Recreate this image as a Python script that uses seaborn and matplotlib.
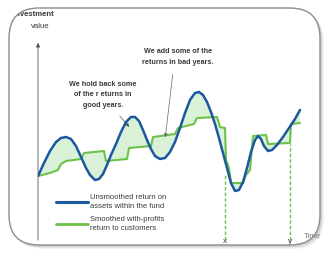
import numpy as np
import pandas as pd
import seaborn as sns
import matplotlib.pyplot as plt
from matplotlib.patches import FancyBboxPatch, PathPatch
from matplotlib.path import Path
from matplotlib.transforms import IdentityTransform, Bbox
from matplotlib.lines import Line2D

# values (time units, value units)
blue_t = [0, 6, 12, 18, 23, 28, 33, 38, 43, 48, 52, 57, 61, 65, 69, 73, 78, 83, 88, 93,
          97, 101, 105, 109, 113, 117, 122, 127, 132, 137, 142, 147, 152, 157, 161, 165,
          169, 173, 177, 181, 185, 189, 193, 197, 201, 205, 209, 213, 217, 220, 223, 226,
          230, 234, 239, 245, 251, 257, 262]
blue_v = [67, 80, 92, 101, 105, 106, 104, 97, 86, 75, 68, 63, 64, 69, 78, 88, 99, 111, 121, 126,
          126, 122, 113, 103, 94, 87, 84, 85, 91, 101, 115, 130, 143, 150, 151, 148,
          141, 131, 119, 105, 90, 75, 60, 52, 53, 61, 75, 91, 103, 107, 104, 97,
          92, 93, 98, 106, 115, 124, 133]
green_t = [0, 12, 20, 23, 28, 43, 46, 66, 68, 89, 91, 113, 115, 137, 140, 156, 159, 179,
           182, 187, 188, 191, 193, 205, 208, 212, 215, 228, 230, 252, 253, 262]
green_v = [67, 70, 73, 79, 82, 84, 90, 92, 82, 84, 95, 97, 106, 109, 115, 119, 125, 126,
           116, 115, 83, 75, 60, 60, 68, 73, 107, 108, 99, 100, 119, 120]
marks_t = [187, 252]
marks_v = [69, 99]
mark_labels = ['x', 'y']

BLUE = '#1b58a0'
GREEN = '#6cc24a'
FILL = '#d9f1d6'
TXT = '#3a3a3a'

sns.set_theme(style='white')
plt.rcParams['font.family'] = ['Liberation Sans', 'DejaVu Sans']

fig = plt.figure(figsize=(3.26, 2.54), dpi=100)
fig.patch.set_facecolor('white')

# frame with soft shadow (pixel coordinates)
box = dict(boxstyle='round,pad=0,rounding_size=30', transform=IdentityTransform())
for off, a in [(4, 0.10), (3, 0.15), (2, 0.25)]:
    fig.patches.append(FancyBboxPatch((9 + off, 9 - off), 311, 237, facecolor='#9a9a9a',
                                      edgecolor='none', alpha=a, zorder=-6, **box))
frame = FancyBboxPatch((9, 9), 311, 237, facecolor='white', edgecolor='none', zorder=-5, **box)
fig.patches.append(frame)

# white mask outside the top-left corner so the label is cut by the frame
poly = frame.get_path().to_polygons()[0]
area = 0.5 * np.sum(poly[:-1, 0] * poly[1:, 1] - poly[1:, 0] * poly[:-1, 1])
if area > 0:
    poly = poly[::-1]
corner = np.array([[0, 190], [80, 190], [80, 254], [0, 254], [0, 190]])
mask = PathPatch(Path.make_compound_path(Path(corner, closed=True), Path(poly, closed=True)),
                 transform=IdentityTransform(), facecolor='white', edgecolor='none', zorder=10)
mask.set_clip_box(Bbox([[0, 190], [80, 254]]))
fig.patches.append(mask)
fig.patches.append(FancyBboxPatch((9, 9), 311, 237, facecolor='none', edgecolor='#8c8c8c',
                                  linewidth=1.0, zorder=11, **box))

ax = fig.add_axes([38 / 326, (254 - 236) / 254, 267 / 326, 203 / 254])
ax.set_facecolor('none')
ax.set_xlim(0, 267)
ax.set_ylim(7, 210)

# shaded area between the two curves
ax.fill(blue_t + green_t[::-1], blue_v + green_v[::-1], color=FILL, lw=0, zorder=1)

sns.lineplot(x=green_t, y=green_v, ax=ax, color=GREEN, lw=1.5, sort=False, estimator=None, zorder=3)
sns.lineplot(x=blue_t, y=blue_v, ax=ax, color=BLUE, lw=1.8, sort=False, estimator=None, zorder=4)

ax.vlines(marks_t, 3, marks_v, colors=GREEN, linestyles=(0, (2.5, 1.5)), lw=1.0, clip_on=False, zorder=2)

for s in ax.spines.values():
    s.set_visible(False)
ax.set_yticks([])
ax.set_xticks(marks_t)
ax.set_xticklabels(mark_labels, fontsize=6, color=TXT)
ax.tick_params(axis='x', length=0, pad=1.5)
ax.set_xlabel('')
ax.set_ylabel('')

# vertical axis with arrow head
ax.annotate('', xy=(0, 203), xytext=(0, 0), xycoords='data',
            arrowprops=dict(arrowstyle='-|>', color='#555555', lw=0.6, mutation_scale=6),
            annotation_clip=False)

ax.text(65, 148, 'We hold back some\nof the r eturns in\ngood years.', ha='center', va='center',
        fontsize=5.2, color=TXT, fontweight='bold', linespacing=1.75)
ax.annotate('', xy=(93, 114), xytext=(80, 129),
            arrowprops=dict(arrowstyle='-|>', color='#555555', lw=0.5, mutation_scale=5))
ax.text(140, 186, 'We add some of the\nreturns in bad years.', ha='center', va='center',
        fontsize=5.2, color=TXT, fontweight='bold', linespacing=1.75)
ax.annotate('', xy=(127, 103), xytext=(135, 171),
            arrowprops=dict(arrowstyle='-|>', color='#666666', lw=0.5, mutation_scale=5))

fig.text(34 / 326, 1 - 15 / 254, 'Investment', ha='center', va='center',
         fontsize=5.6, color=TXT, fontweight='bold')
fig.text(40 / 326, 1 - 27 / 254, 'value', ha='center', va='center',
         fontsize=5.6, color=TXT)
fig.text(304 / 326, 1 - 236 / 254, 'Time', ha='left', va='center',
         fontsize=5.6, color='#777777')

handles = [Line2D([], [], color=BLUE, lw=2.2), Line2D([], [], color=GREEN, lw=2.0)]
labels = ['Unsmoothed return on\nassets within the fund', 'Smoothed with-profits\nreturn to customers']
leg = fig.legend(handles, labels, loc='upper left', bbox_to_anchor=(52 / 326, 1 - 190 / 254),
                 frameon=False, fontsize=5.5, handlelength=4.2, handletextpad=0.25,
                 labelspacing=0.75, borderpad=0)
for txt in leg.get_texts():
    txt.set_color(TXT)
    txt.set_linespacing(1.45)

fig.savefig('out.png', dpi=100)
